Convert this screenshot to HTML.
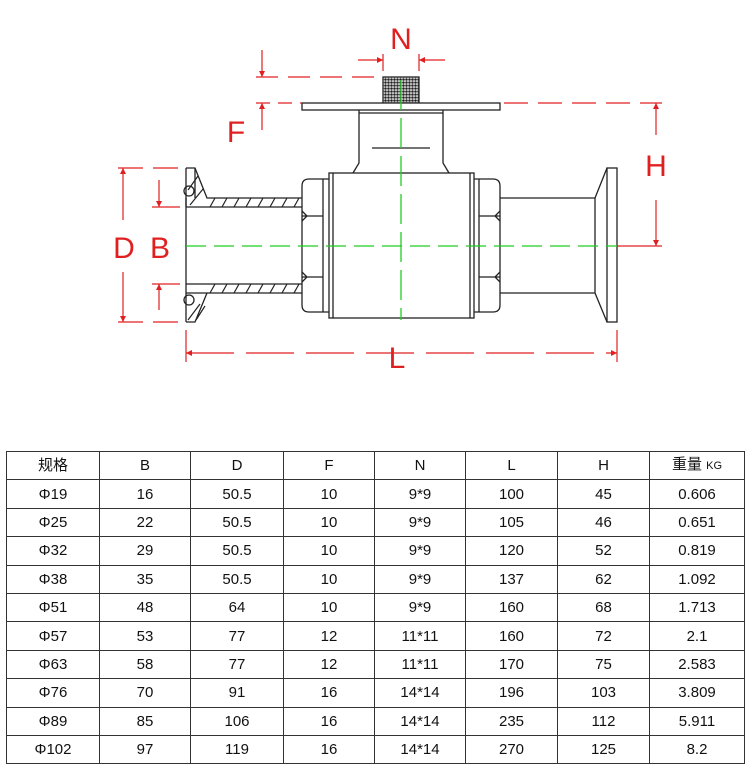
<!DOCTYPE html>
<html><head><meta charset="utf-8"><style>
body{margin:0;background:#fff;width:750px;height:776px;overflow:hidden;position:relative;font-family:"Liberation Sans","Noto Sans CJK SC",sans-serif}
svg{position:absolute;left:0;top:0}
table{position:absolute;left:6px;top:451px;border-collapse:collapse;table-layout:fixed}
td{border:1px solid #333;height:27.4px;padding:0;text-align:center;font-size:15px;color:#111;line-height:15px}
</style></head><body>
<svg width="750" height="440" viewBox="0 0 750 440">
<defs>
<pattern id="mesh" width="3" height="3" patternUnits="userSpaceOnUse"><rect width="3" height="3" fill="#fff"/><circle cx="1.5" cy="1.5" r="1.3" fill="#222"/></pattern>
<marker id="ar" viewBox="0 0 10 10" refX="10" refY="5" markerWidth="8" markerHeight="5" orient="auto-start-reverse"><path d="M0,0 L10,5 L0,10z" fill="#e02020"/></marker>
</defs>
<g fill="none" stroke="#222" stroke-width="1.3">
<rect x="383" y="77" width="36" height="26" fill="url(#mesh)"/>
<rect x="302" y="103" width="198" height="7" fill="#fff"/>
<path d="M359,110 V163 L353,173 M443,110 V163 L449,173"/>
<line x1="359" y1="113" x2="443" y2="113"/>
<line x1="372" y1="148" x2="430" y2="148"/>
<rect x="329" y="173" width="145" height="145"/>
<line x1="333" y1="173" x2="333" y2="318"/><line x1="470" y1="173" x2="470" y2="318"/>
<path d="M329,179 H309 Q302,179 302,186 V305 Q302,312 309,312 H329"/>
<line x1="323" y1="179" x2="323" y2="312"/>
<path d="M302,216 H323 M302,277 H323 M302,211 L307,216 L302,221 M302,272 L307,277 L302,282"/>
<path d="M474,179 H493 Q500,179 500,186 V305 Q500,312 493,312 H474"/>
<line x1="479" y1="179" x2="479" y2="312"/>
<path d="M479,216 H500 M479,277 H500 M500,211 L495,216 L500,221 M500,272 L495,277 L500,282"/>
<path d="M500,198 H595 M500,293 H595 M595,198 V293 M595,198 L607,168 M595,293 L607,322"/>
<rect x="607" y="168" width="10" height="154"/>
<path d="M186,168 H195 L207,198 H302 M207,207 H302 M186,207 H207 M186,284 H302 M186,293 L207,293 H302 M186,322 H195 L207,293"/>
<line x1="186" y1="168" x2="186" y2="322"/>
<path d="M186,207 V198 M195,168 V198" />
<path stroke-width="1.2" d="M210,207 l5,-9 M222,207 l5,-9 M234,207 l5,-9 M246,207 l5,-9 M258,207 l5,-9 M270,207 l5,-9 M282,207 l5,-9 M294,207 l5,-9 M210,293 l5,-9 M222,293 l5,-9 M234,293 l5,-9 M246,293 l5,-9 M258,293 l5,-9 M270,293 l5,-9 M282,293 l5,-9 M294,293 l5,-9 M188,190 l10,-14 M190,205 l13,-16 M188,320 l12,-16 M196,320 l9,-14"/>
<circle cx="189" cy="191" r="5"/><circle cx="189" cy="300" r="5"/>
</g>
<g stroke="#22cc22" stroke-width="1.3" stroke-dasharray="20,8" fill="none">
<line x1="186" y1="246" x2="617" y2="246"/>
<line x1="401" y1="80" x2="401" y2="320" stroke-dasharray="30,8"/>
</g>
<g stroke="#e02020" stroke-width="1.2" fill="none">
<line x1="256" y1="77" x2="382" y2="77" stroke-dasharray="22,10"/>
<line x1="256" y1="103" x2="302" y2="103" stroke-dasharray="14,8"/>
<line x1="504" y1="103" x2="662" y2="103" stroke-dasharray="24,10"/>
<line x1="617" y1="246" x2="662" y2="246"/>
<line x1="262" y1="50" x2="262" y2="77" marker-end="url(#ar)"/>
<line x1="262" y1="130" x2="262" y2="103" marker-end="url(#ar)"/>
<line x1="656" y1="135" x2="656" y2="103" marker-end="url(#ar)"/>
<line x1="656" y1="200" x2="656" y2="246" marker-end="url(#ar)"/>
<line x1="358" y1="60" x2="383" y2="60" marker-end="url(#ar)"/>
<line x1="445" y1="60" x2="419" y2="60" marker-end="url(#ar)"/>
<line x1="383" y1="54" x2="383" y2="71"/><line x1="419" y1="54" x2="419" y2="71"/>
<line x1="118" y1="168" x2="180" y2="168" stroke-dasharray="25,10"/>
<line x1="118" y1="322" x2="180" y2="322" stroke-dasharray="25,10"/>
<line x1="152" y1="207" x2="180" y2="207"/><line x1="152" y1="284" x2="180" y2="284"/>
<line x1="123" y1="220" x2="123" y2="168" marker-end="url(#ar)"/>
<line x1="123" y1="272" x2="123" y2="322" marker-end="url(#ar)"/>
<line x1="159" y1="180" x2="159" y2="207" marker-end="url(#ar)"/>
<line x1="159" y1="310" x2="159" y2="284" marker-end="url(#ar)"/>
<line x1="186" y1="330" x2="186" y2="362"/><line x1="617" y1="330" x2="617" y2="362"/>
<line x1="186" y1="353" x2="617" y2="353" stroke-dasharray="48,12" marker-start="url(#ar)" marker-end="url(#ar)"/>
</g>
<g fill="#e02020" font-family="Liberation Sans,sans-serif" font-size="30" text-anchor="middle">
<text x="401" y="49">N</text>
<text x="236" y="142">F</text>
<text x="656" y="176">H</text>
<text x="124" y="258">D</text>
<text x="160" y="258">B</text>
<text x="397" y="368">L</text>
</g>
</svg>
<table>
<colgroup><col style="width:93px"><col style="width:91px"><col style="width:93px"><col style="width:91px"><col style="width:91px"><col style="width:92px"><col style="width:92px"><col style="width:95px"></colgroup>
<tr><td>规格</td><td>B</td><td>D</td><td>F</td><td>N</td><td>L</td><td>H</td><td>重量 <span style="font-size:11px">KG</span></td></tr>
<tr><td>Φ19</td><td>16</td><td>50.5</td><td>10</td><td>9*9</td><td>100</td><td>45</td><td>0.606</td></tr>
<tr><td>Φ25</td><td>22</td><td>50.5</td><td>10</td><td>9*9</td><td>105</td><td>46</td><td>0.651</td></tr>
<tr><td>Φ32</td><td>29</td><td>50.5</td><td>10</td><td>9*9</td><td>120</td><td>52</td><td>0.819</td></tr>
<tr><td>Φ38</td><td>35</td><td>50.5</td><td>10</td><td>9*9</td><td>137</td><td>62</td><td>1.092</td></tr>
<tr><td>Φ51</td><td>48</td><td>64</td><td>10</td><td>9*9</td><td>160</td><td>68</td><td>1.713</td></tr>
<tr><td>Φ57</td><td>53</td><td>77</td><td>12</td><td>11*11</td><td>160</td><td>72</td><td>2.1</td></tr>
<tr><td>Φ63</td><td>58</td><td>77</td><td>12</td><td>11*11</td><td>170</td><td>75</td><td>2.583</td></tr>
<tr><td>Φ76</td><td>70</td><td>91</td><td>16</td><td>14*14</td><td>196</td><td>103</td><td>3.809</td></tr>
<tr><td>Φ89</td><td>85</td><td>106</td><td>16</td><td>14*14</td><td>235</td><td>112</td><td>5.911</td></tr>
<tr><td>Φ102</td><td>97</td><td>119</td><td>16</td><td>14*14</td><td>270</td><td>125</td><td>8.2</td></tr>
</table>
</body></html>
